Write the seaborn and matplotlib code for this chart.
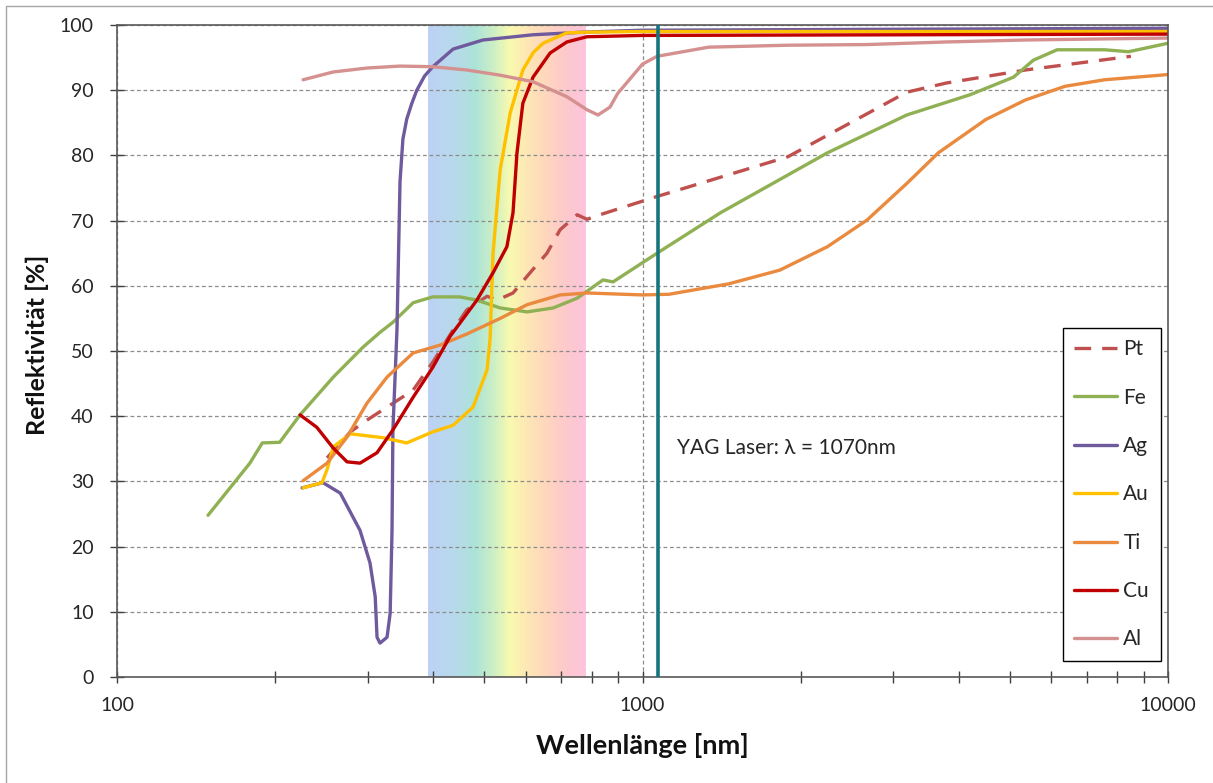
import numpy as np
import pandas as pd
import matplotlib
matplotlib.use("Agg")
import matplotlib.pyplot as plt
from matplotlib.colors import LinearSegmentedColormap
from matplotlib.patches import Rectangle
from matplotlib.ticker import LogLocator, NullFormatter
import seaborn as sns

# Reflectance of metals vs. wavelength (nm, %)
metals = ["Pt", "Fe", "Ag", "Au", "Ti", "Cu", "Al"]

pt_wl = [251, 278, 299, 331, 366, 399, 436, 463, 506, 529, 567, 611, 658, 697, 751, 784,
         830, 1066, 1892, 2410, 3184, 3786, 5354, 8500]
pt_r = [33.6, 37.6, 39.4, 41.7, 44.0, 48.3, 53.2, 56.3, 58.4, 57.8, 58.9, 62.0, 65.0, 68.6,
        70.9, 70.2, 70.9, 73.7, 79.8, 84.4, 89.7, 91.1, 93.1, 95.2]

fe_wl = [149, 179, 189, 204, 223, 258, 294, 317, 335, 366, 399, 449, 484, 536, 603, 676,
         751, 841, 879, 1066, 1407, 2249, 3184, 4200, 5082, 5543, 6150, 7573, 8414, 10000]
fe_r = [24.8, 32.8, 35.9, 36.0, 40.2, 46.0, 50.6, 52.9, 54.4, 57.4, 58.3, 58.3, 57.8, 56.6,
        56.0, 56.6, 58.1, 60.9, 60.6, 65.0, 71.2, 80.4, 86.2, 89.3, 92.0, 94.6, 96.2, 96.2,
        95.9, 97.2]

ag_wl = [225, 246.6, 266, 290, 303, 310, 312.5, 316.6, 326.5, 331, 333.7, 335, 341, 345.6,
         350, 356, 364, 372, 385, 399, 436, 497, 619, 770, 1000, 10000]
ag_r = [29.0, 29.8, 28.2, 22.5, 17.5, 12.3, 6.1, 5.2, 6.1, 9.8, 22.5, 37.9, 53.2, 76.0,
        82.5, 85.6, 88.0, 90.0, 92.2, 93.6, 96.3, 97.7, 98.5, 98.9, 99.2, 99.5]

au_wl = [226, 245.5, 251, 258, 278, 321, 356, 399, 436, 476, 506, 513, 519.5, 536, 560,
         592, 620, 647, 718, 784, 1000, 10000]
au_r = [29.0, 29.8, 31.8, 35.3, 37.3, 36.7, 35.9, 37.6, 38.6, 41.4, 47.1, 52.0, 65.0, 77.8,
        86.5, 93.1, 95.8, 97.2, 98.8, 98.9, 99.0, 99.0]

ti_wl = [226, 251, 274, 299, 326.5, 366, 412, 463, 536, 603, 697, 784, 1000, 1123, 1459,
         1825, 2249, 2676, 3184, 3656, 4500, 5354, 6369, 7573, 10000]
ti_r = [30.1, 32.8, 36.8, 42.0, 46.0, 49.7, 50.9, 52.6, 55.0, 57.1, 58.6, 58.9, 58.6, 58.7,
        60.3, 62.4, 66.0, 70.1, 75.7, 80.4, 85.5, 88.5, 90.6, 91.6, 92.4]

cu_wl = [223, 240, 258, 274, 290, 312.5, 335, 366, 399, 430, 484, 519.5, 552, 567, 577,
         592, 619, 667, 718, 784, 1000, 10000]
cu_r = [40.2, 38.3, 35.1, 33.0, 32.8, 34.4, 37.9, 42.9, 47.5, 52.2, 57.8, 62.0, 66.0, 71.2,
        80.4, 88.0, 92.0, 95.7, 97.4, 98.2, 98.4, 98.6]

al_wl = [226, 258, 299, 345.6, 399, 463, 536, 619, 718, 784, 823, 867, 897, 1000, 1066,
         1336, 1892, 2676, 3786, 5354, 10000]
al_r = [91.6, 92.8, 93.4, 93.7, 93.6, 93.1, 92.3, 91.3, 89.0, 87.0, 86.2, 87.4, 89.5, 94.0,
        95.2, 96.6, 96.9, 97.0, 97.4, 97.7, 98.0]

series = {
    "Pt": (pt_wl, pt_r), "Fe": (fe_wl, fe_r), "Ag": (ag_wl, ag_r), "Au": (au_wl, au_r),
    "Ti": (ti_wl, ti_r), "Cu": (cu_wl, cu_r), "Al": (al_wl, al_r),
}

colors = {
    "Pt": "#c0504d", "Fe": "#8fb153", "Ag": "#6e5a9c", "Au": "#ffc000",
    "Ti": "#ea8a3e", "Cu": "#c00000", "Al": "#d59190",
}
dash_map = {m: "" for m in metals}
dash_map["Pt"] = (5, 3.3)

visible_band = (390, 780)
laser_wl = 1070

df = pd.concat(
    [pd.DataFrame({"Wellenlänge": series[m][0], "Reflektivität": series[m][1], "Metall": m})
     for m in metals],
    ignore_index=True,
)

sns.set_theme(style="white")
plt.rcParams["font.family"] = ["Lato", "DejaVu Sans"]

W, H = 1213, 783
fig = plt.figure(figsize=(W / 100, H / 100), dpi=100)
ax = fig.add_axes([117 / W, 1 - 677 / H, (1168 - 117) / W, (677 - 25) / H])
ax.set_xscale("log")

# visible spectrum band
spec_cmap = LinearSegmentedColormap.from_list(
    "spectrum",
    [(0.00, "#bdd1f5"), (0.18, "#b6daea"), (0.30, "#ace3d8"), (0.42, "#cdefc4"),
     (0.52, "#f8f9ae"), (0.62, "#fde8b4"), (0.75, "#fed6bc"), (0.88, "#fdc8cc"),
     (1.00, "#fdc4dc")],
)
edges = np.geomspace(visible_band[0], visible_band[1], 301)
ax.pcolormesh(edges, [0, 100], np.linspace(0, 1, 300)[np.newaxis, :],
              cmap=spec_cmap, shading="flat", zorder=0.2)

for m in metals:
    sub = df[df["Metall"] == m]
    sns.lineplot(data=sub, x="Wellenlänge", y="Reflektivität", color=colors[m],
                 linewidth=2.4, estimator=None, sort=False, ax=ax, label=m,
                 dashes=False)
    line = ax.lines[-1]
    line.set_solid_joinstyle("round")
    line.set_dash_joinstyle("round")
    if dash_map[m]:
        line.set_dashes(dash_map[m])

ax.axvline(laser_wl, color="#17767d", lw=2.6, zorder=3)
ax.text(1163, 35.1, "YAG Laser: λ = 1070nm", fontsize=15, va="center", ha="left",
        color="#262626")

ax.set_xlim(100, 10000)
ax.set_ylim(0, 100)
ax.set_yticks(range(0, 101, 10))
ax.set_xticks([100, 1000, 10000], labels=["100", "1000", "10000"])
ax.xaxis.set_minor_locator(LogLocator(base=10, subs=np.arange(2, 10)))
ax.xaxis.set_minor_formatter(NullFormatter())

ax.tick_params(axis="x", which="both", direction="inout", length=8.6, width=1,
               color="#404040", pad=10, labelsize=14, labelcolor="#262626", bottom=True)
ax.tick_params(axis="y", which="major", direction="inout", length=9.4, width=1,
               color="#404040", pad=12, labelsize=14, labelcolor="#262626", left=True)

grid_style = dict(linestyle=(0, (3, 2.2)), color="#8c8c8c", linewidth=0.9)
ax.grid(True, axis="y", which="major", **grid_style)
ax.grid(True, axis="x", which="major", **grid_style)
ax.set_axisbelow(True)

for s in ax.spines.values():
    s.set_visible(True)
    s.set_color("#595959")
    s.set_linewidth(1.2)

ax.set_xlabel("Wellenlänge [nm]", fontsize=19.5, fontweight="bold", color="#111111")
ax.set_ylabel("Reflektivität [%]", fontsize=18, fontweight="bold", color="#111111")
ax.xaxis.set_label_coords(0.5, (677 - 745) / 652)
ax.xaxis.label.set_va("center")
ax.yaxis.set_label_coords((37 - 117) / 1051, (677 - 345) / 652)
ax.yaxis.label.set_va("center")

handles, labels = ax.get_legend_handles_labels()
leg = ax.legend(handles, labels, loc="upper left",
                bbox_to_anchor=(1063 / W, 1 - 328 / H), bbox_transform=fig.transFigure,
                frameon=True, fancybox=False, edgecolor="black", framealpha=1,
                fontsize=15, labelspacing=1.36, handlelength=2.05, handletextpad=0.3,
                borderpad=0.55, borderaxespad=0)
leg.get_frame().set_linewidth(1.0)
for t in leg.get_texts():
    t.set_color("#262626")

# outer figure border
fig.add_artist(Rectangle((6 / W, -0.5), 2, 0.5 + 1 - 6 / H, transform=fig.transFigure,
                         fill=False, edgecolor="#a6a6a6", lw=1))

fig.savefig("out.png", dpi=100)
